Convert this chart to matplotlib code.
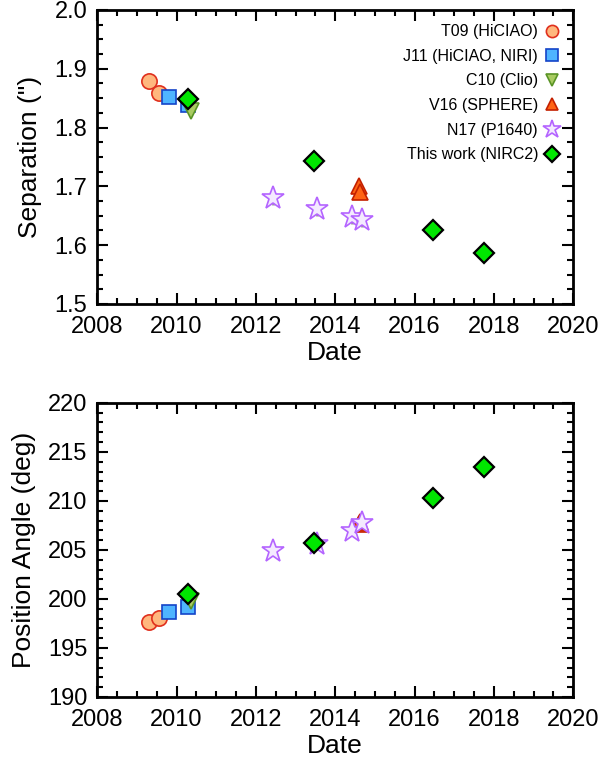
import matplotlib.pyplot as plt
from matplotlib.ticker import MultipleLocator

plt.rcParams['font.family'] = ['Liberation Sans', 'DejaVu Sans']

# T09 (HiCIAO)
t09_date = [2009.31, 2009.56]
t09_sep = [1.879, 1.859]
t09_pa = [197.7, 198.1]

# J11 (HiCIAO, NIRI)
j11_date = [2009.81, 2010.29]
j11_sep = [1.852, 1.838]
j11_pa = [198.7, 199.2]

# C10 (Clio)
c10_date = [2010.37]
c10_sep = [1.828]
c10_pa = [199.8]

# V16 (SPHERE)
v16_date = [2014.60, 2014.62]
v16_sep = [1.700, 1.691]
v16_pa = [207.6, 207.9]

# N17 (P1640)
n17_date = [2012.43, 2013.54, 2014.42, 2014.67]
n17_sep = [1.680, 1.661, 1.648, 1.643]
n17_sep_err = [0.012, 0.012, 0.012, 0.012]
n17_pa = [204.9, 205.6, 206.9, 207.7]

# This work (NIRC2)
nirc2_date = [2010.29, 2013.47, 2016.46, 2017.75]
nirc2_sep = [1.849, 1.743, 1.626, 1.587]
nirc2_pa = [200.5, 205.7, 210.3, 213.5]

series = [
    ('T09 (HiCIAO)', t09_date, t09_sep, t09_pa, 'o', 11, '#ffb77e', '#e0301e', 1.2),
    ('J11 (HiCIAO, NIRI)', j11_date, j11_sep, j11_pa, 's', 10, '#4fb4ff', '#1444c8', 1.2),
    ('C10 (Clio)', c10_date, c10_sep, c10_pa, 'v', 11, '#a9cb62', '#5a9426', 1.2),
    ('V16 (SPHERE)', v16_date, v16_sep, v16_pa, '^', 11, '#ff6414', '#c42000', 1.2),
    ('N17 (P1640)', n17_date, n17_sep, n17_pa, '*', 17, '#f4eaff', '#b464ff', 1.2),
    ('This work (NIRC2)', nirc2_date, nirc2_sep, nirc2_pa, 'D', 10, '#00e600', 'black', 1.6),
]

fig = plt.figure(figsize=(6.15, 7.59), dpi=100)
ax1 = fig.add_axes([0.158, 0.5995, 0.774, 0.3875])
ax2 = fig.add_axes([0.158, 0.0817, 0.774, 0.3875])

# gray error bars under the P1640 stars
ax1.errorbar(n17_date, n17_sep, yerr=n17_sep_err, fmt='none', ecolor='#999999',
             elinewidth=2, capsize=0, zorder=1)

for label, d, sep, pa, m, ms, fc, ec, mew in series:
    ax1.plot(d, sep, linestyle='none', marker=m, markersize=ms, markerfacecolor=fc,
             markeredgecolor=ec, markeredgewidth=mew, label=label, zorder=2)
    ax2.plot(d, pa, linestyle='none', marker=m, markersize=ms, markerfacecolor=fc,
             markeredgecolor=ec, markeredgewidth=mew, zorder=2)

ax1.set_ylim(1.5, 2.0)
ax1.yaxis.set_major_locator(MultipleLocator(0.1))
ax1.yaxis.set_minor_locator(MultipleLocator(0.025))
ax1.set_ylabel('Separation (")', fontsize=19, labelpad=9)

ax2.set_ylim(190, 220)
ax2.yaxis.set_major_locator(MultipleLocator(5))
ax2.yaxis.set_minor_locator(MultipleLocator(1))
ax2.set_ylabel('Position Angle (deg)', fontsize=19, labelpad=9)

for ax in (ax1, ax2):
    ax.set_xlim(2008, 2020)
    ax.xaxis.set_major_locator(MultipleLocator(2))
    ax.xaxis.set_minor_locator(MultipleLocator(0.5))
    ax.set_xlabel('Date', fontsize=19, labelpad=2)
    ax.tick_params(which='both', direction='in', top=True, right=True, labelsize=17, width=1.5)
    ax.tick_params(axis='x', which='major', pad=9)
    ax.tick_params(axis='y', which='major', pad=7)
    ax.tick_params(which='major', length=8)
    ax.tick_params(which='minor', length=4)
    for s in ax.spines.values():
        s.set_linewidth(2)

leg = ax1.legend(loc='upper right', markerfirst=False, frameon=False, fontsize=11.5,
                 markerscale=0.8, handlelength=0.8, handletextpad=0.5, labelspacing=0.6,
                 borderaxespad=0.5)

plt.savefig('out.png', dpi=100)
